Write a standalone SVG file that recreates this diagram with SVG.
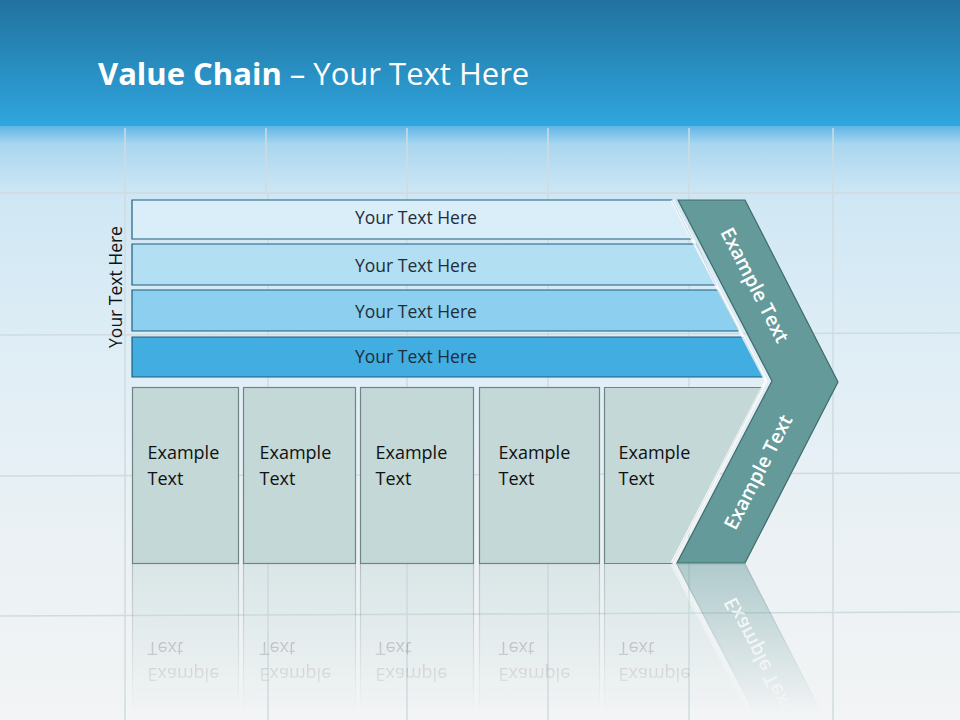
<svg xmlns="http://www.w3.org/2000/svg" xmlns:xlink="http://www.w3.org/1999/xlink" width="960" height="720" viewBox="0 0 960 720">
<defs>
<linearGradient id="hdr" x1="0" y1="0" x2="0" y2="1">
<stop offset="0" stop-color="#21729e"/>
<stop offset="1" stop-color="#2fa6de"/>
</linearGradient>
<linearGradient id="wall" x1="0" y1="0" x2="0" y2="1">
<stop offset="0.175" stop-color="#5fb5e5"/>
<stop offset="0.2" stop-color="#a9d6ef"/>
<stop offset="0.27" stop-color="#cfe7f4"/>
<stop offset="0.5" stop-color="#e0eef6"/>
<stop offset="0.75" stop-color="#ebf1f4"/>
<stop offset="1" stop-color="#f2f4f5"/>
</linearGradient>
<linearGradient id="fade" x1="0" y1="0" x2="0" y2="1">
<stop offset="0" stop-color="#fff" stop-opacity="0.45"/>
<stop offset="1" stop-color="#fff" stop-opacity="0"/>
</linearGradient>
<mask id="refl" maskUnits="userSpaceOnUse" x="0" y="560" width="960" height="160">
<rect x="0" y="563" width="960" height="150" fill="url(#fade)"/>
</mask>
<style>
.tile{stroke:#cfdbe1;stroke-width:1.5;fill:none}
.bar{stroke:#1f5f80;stroke-width:1.2}
.bt{font-family:"Open Sans","DejaVu Sans",sans-serif;font-size:17.5px;fill:#1f2d3a;text-anchor:middle}
.box{fill:#c3d8d7;stroke:#6f8585;stroke-width:1.2}
.ex{font-family:"Open Sans","Liberation Sans",sans-serif;font-size:18px;fill:#111}
.chev{fill:#659a9a;stroke:#3f6b6b;stroke-width:1.2}
.ct{font-family:"Open Sans","Liberation Sans",sans-serif;font-size:19.5px;font-weight:600;fill:#fff;text-anchor:middle}
</style>
</defs>

<!-- background -->
<rect x="0" y="0" width="960" height="720" fill="url(#wall)"/>
<rect x="0" y="0" width="960" height="126" fill="url(#hdr)"/>
<g class="tile">
<line x1="0" y1="193" x2="960" y2="193"/>
<line x1="0" y1="335" x2="960" y2="333"/>
<line x1="0" y1="476" x2="960" y2="473"/>
<line x1="0" y1="616" x2="960" y2="612"/>
<line x1="125" y1="128" x2="125" y2="720"/>
<line x1="266" y1="128" x2="266" y2="193"/>
<line x1="407" y1="128" x2="407" y2="720"/>
<line x1="548" y1="128" x2="548" y2="720"/>
<line x1="689" y1="128" x2="689" y2="720"/>
<line x1="833" y1="128" x2="833" y2="720"/>
<line x1="268" y1="193" x2="268" y2="720"/>
</g>

<!-- title -->
<text x="98" y="85" font-family="Open Sans, Liberation Sans, sans-serif" font-size="31" fill="#fff"><tspan font-weight="bold">Value Chain</tspan> – Your Text Here</text>

<!-- vertical label -->
<g id="side-label">
<text transform="translate(121.5,287) rotate(-90)" class="bt" style="fill:#111">Your Text Here</text>
</g>

<!-- bars -->
<g id="bar1"><polygon class="bar" fill="#daeef9" points="132,200 672,200 692,239 132,239"/><text class="bt" x="416" y="224">Your Text Here</text></g>
<g id="bar2"><polygon class="bar" fill="#b3dff2" points="132,244 696,244 716,285 132,285"/><text class="bt" x="416" y="271.5">Your Text Here</text></g>
<g id="bar3"><polygon class="bar" fill="#8dcfee" points="132,290 718,290 739,331 132,331"/><text class="bt" x="416" y="317.5">Your Text Here</text></g>
<g id="bar4"><polygon class="bar" fill="#41ade0" points="132,337 743,337 763,377 132,377"/><text class="bt" x="416" y="362.5">Your Text Here</text></g>

<!-- bottom boxes + chevron (reflected below) -->
<g id="lower">
<g id="box1"><rect class="box" x="132.5" y="387.5" width="106" height="176"/><text class="ex" x="147.5" y="459">Example</text><text class="ex" x="147.5" y="485">Text</text></g>
<g id="box2"><rect class="box" x="243.5" y="387.5" width="112" height="176"/><text class="ex" x="259.5" y="459">Example</text><text class="ex" x="259.5" y="485">Text</text></g>
<g id="box3"><rect class="box" x="360.5" y="387.5" width="113" height="176"/><text class="ex" x="375.5" y="459">Example</text><text class="ex" x="375.5" y="485">Text</text></g>
<g id="box4"><rect class="box" x="479.5" y="387.5" width="120" height="176"/><text class="ex" x="498.5" y="459">Example</text><text class="ex" x="498.5" y="485">Text</text></g>
<g id="box5"><polygon class="box" points="604.5,387.5 762,387.5 672,563.5 604.5,563.5"/><text class="ex" x="618.5" y="459">Example</text><text class="ex" x="618.5" y="485">Text</text></g>
<g id="chevron">
<polyline points="672,200 766,381 672,563" fill="none" stroke="#ffffff" stroke-opacity="0.8" stroke-width="3"/>
<polygon class="chev" points="678,200 745,200 838,382 745,563 677,563 772,381"/>
<text class="ct" transform="translate(755,285) rotate(62.9)" dy="7">Example Text</text>
<text class="ct" transform="translate(758,472) rotate(-62.9)" dy="7">Example Text</text>
</g>
</g>

<!-- reflection -->
<g mask="url(#refl)">
<use xlink:href="#lower" href="#lower" transform="translate(0,1127) scale(1,-1)"/>
</g>
</svg>
